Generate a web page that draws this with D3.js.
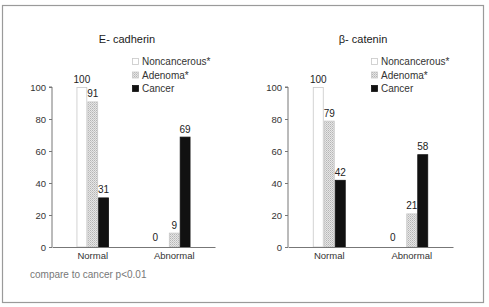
<!DOCTYPE html>
<html><head><meta charset="utf-8">
<script src="https://cdn.jsdelivr.net/npm/d3@7"></script>
<style>body{margin:0;background:#fff}svg{display:block}</style>
</head><body>
<script>
const categories = ["Normal", "Abnormal"];
const seriesNames = ["Noncancerous*", "Adenoma*", "Cancer"];
const ecadNon = [100, 0];
const ecadAden = [91, 9];
const ecadCancer = [31, 69];
const bcatNon = [100, 0];
const bcatAden = [79, 21];
const bcatCancer = [42, 58];
const yTicks = [0, 20, 40, 60, 80, 100];
const titles = ["E- cadherin", "\u03b2- catenin"];
const note = "compare to cancer p<0.01";

const W = 489, H = 307;
const svg = d3.select("body").append("svg").attr("width", W).attr("height", H);
const defs = svg.append("defs");
const pat = defs.append("pattern").attr("id", "dots").attr("patternUnits", "userSpaceOnUse")
  .attr("width", 2).attr("height", 2);
pat.append("rect").attr("width", 2).attr("height", 2).attr("fill", "#e6e6e6");
pat.append("rect").attr("width", 1).attr("height", 1).attr("fill", "#b5b5b5");
pat.append("rect").attr("x", 1).attr("y", 1).attr("width", 1).attr("height", 1).attr("fill", "#c8c8c8");

svg.append("rect").attr("x", 2.5).attr("y", 5.5).attr("width", 481).attr("height", 297)
  .attr("fill", "#fff").attr("stroke", "#9a9a9a").attr("stroke-width", 1.2);

const fills = ["#ffffff", "url(#dots)", "#111111"];
const strokes = ["#c8c8c8", "#c8c8c8", "#111111"];
const font = "Liberation Sans, Arial, sans-serif";

const panels = [
  {title: titles[0], data: [ecadNon, ecadAden, ecadCancer], x0: 52, x1: 215, legX: 132, titleX: 127},
  {title: titles[1], data: [bcatNon, bcatAden, bcatCancer], x0: 288, x1: 453, legX: 371, titleX: 363}
];

const y = d3.scaleLinear().domain([0, 100]).range([247, 87]);

panels.forEach(p => {
  const g = svg.append("g");
  const x = d3.scaleBand().domain(categories).range([p.x0, p.x1]).paddingInner(0.6).paddingOuter(0.3);
  const xs = d3.scaleBand().domain(seriesNames).range([0, x.bandwidth()]);

  g.append("text").attr("x", p.titleX).attr("y", 43).attr("text-anchor", "middle")
    .attr("font-family", font).attr("font-size", 11).attr("fill", "#1a1a1a").text(p.title);

  const ya = g.append("g").attr("transform", `translate(${p.x0},0)`)
    .call(d3.axisLeft(y).tickValues(yTicks).tickSize(3).tickPadding(3));
  ya.select(".domain").attr("stroke", "#777").attr("d", `M-3,${y(100)}H0V${y(0)}`);
  ya.selectAll(".tick line").attr("stroke", "#777");
  ya.selectAll("text").attr("font-family", font).attr("font-size", 9.5).attr("fill", "#333");

  seriesNames.forEach((s, si) => {
    categories.forEach((c, ci) => {
      const v = p.data[si][ci];
      const bx = x(c) + xs(s);
      if (v > 0) {
        g.append("rect").attr("x", bx + 0.5).attr("y", y(v) + 0.5)
          .attr("width", xs.bandwidth() - 1).attr("height", y(0) - y(v) - 0.5)
          .attr("fill", fills[si]).attr("stroke", strokes[si]).attr("stroke-width", 0.8);
      }
      g.append("text").attr("x", bx + xs.bandwidth() / 2 + (v === 0 ? -8 : 0))
        .attr("y", y(v) - (v === 0 ? 6 : 4)).attr("text-anchor", "middle")
        .attr("font-family", font).attr("font-size", 10)
        .attr("fill", "#222").text(v);
    });
  });

  const xa = g.append("g").attr("transform", `translate(0,${y(0)})`)
    .call(d3.axisBottom(x).tickSize(0).tickPadding(5));
  xa.select(".domain").attr("stroke", "#777");
  xa.selectAll("text").attr("font-family", font).attr("font-size", 9.5).attr("fill", "#333");

  seriesNames.forEach((s, si) => {
    const ly = 62 + si * 13.5;
    g.append("rect").attr("x", p.legX + 0.5).attr("y", ly - 3.5).attr("width", 6).attr("height", 6)
      .attr("fill", fills[si]).attr("stroke", strokes[si]).attr("stroke-width", 0.8);
    g.append("text").attr("x", p.legX + 10).attr("y", ly + 3).attr("font-family", font)
      .attr("font-size", 10).attr("fill", "#333").text(s);
  });
});

svg.append("text").attr("x", 30).attr("y", 278).attr("font-family", font).attr("font-size", 10)
  .attr("fill", "#777").text(note);
</script>
</body></html>
